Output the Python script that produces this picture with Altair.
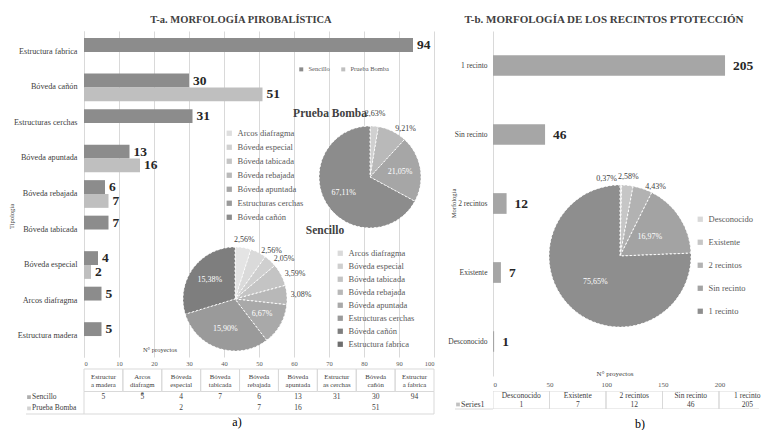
import altair as alt
import pandas as pd

FONT = "Liberation Serif"
GRID = "#d9d9d9"
TXT = "#404040"

# ---------------- panel a data ----------------
tipologias = ["Estructura fabrica", "Bóveda cañón", "Estructuras cerchas", "Bóveda apuntada",
              "Bóveda rebajada", "Bóveda tabicada", "Bóveda especial", "Arcos diafragma",
              "Estructura madera"]
sencillo = [94, 30, 31, 13, 6, 7, 4, 5, 5]
prueba_bomba = [None, 51, None, 16, 7, None, 2, None, None]
series_a = ["Sencillo", "Prueba Bomba"]
series_a_colors = ["#8c8c8c", "#bfbfbf"]
x_ticks_a = [0, 10, 20, 30, 40, 50, 60, 70, 80, 90, 100]

table_a_cols = ["Estructura madera", "Arcos diafragma", "Bóveda especial", "Bóveda tabicada",
                "Bóveda rebajada", "Bóveda apuntada", "Estructuras cerchas", "Bóveda cañón",
                "Estructura fabrica"]
table_a_head = ["Estructur\na madera", "Arcos\ndiafragm\na", "Bóveda\nespecial", "Bóveda\ntabicada",
                "Bóveda\nrebajada", "Bóveda\napuntada", "Estructur\nas cerchas", "Bóveda\ncañón",
                "Estructur\na fabrica"]

pie_pb_cats = ["Bóveda especial", "Bóveda rebajada", "Bóveda apuntada", "Bóveda cañón"]
pie_pb_vals = [2, 7, 16, 51]
pie_pb_domain = ["Arcos diafragma", "Bóveda especial", "Bóveda tabicada", "Bóveda rebajada",
                 "Bóveda apuntada", "Estructuras cerchas", "Bóveda cañón"]
pie_pb_colors = ["#dedede", "#d0d0d0", "#c4c4c4", "#b9b9b9", "#a6a6a6", "#9a9a9a", "#8c8c8c"]

pie_s_cats = ["Estructura madera", "Arcos diafragma", "Bóveda especial", "Bóveda tabicada",
              "Bóveda rebajada", "Bóveda apuntada", "Estructuras cerchas", "Bóveda cañón"]
pie_s_vals = [5, 5, 4, 7, 6, 13, 31, 30]
pie_s_domain = ["Estructura madera", "Arcos diafragma", "Bóveda especial", "Bóveda tabicada",
                "Bóveda rebajada", "Bóveda apuntada", "Estructuras cerchas", "Bóveda cañón",
                "Estructura fabrica"]
pie_s_colors = ["#e4e4e4", "#dadada", "#cfcfcf", "#c4c4c4", "#b8b8b8", "#a9a9a9", "#9a9a9a",
                "#7e7e7e", "#6e6e6e"]

# ---------------- panel b data ----------------
morfologias = ["1 recinto", "Sin recinto", "2 recintos", "Existente", "Desconocido"]
proyectos_b = [205, 46, 12, 7, 1]
x_ticks_b = [0, 50, 100, 150, 200]
table_b_cols = ["Desconocido", "Existente", "2 recintos", "Sin recinto", "1 recinto"]
table_b_vals = [1, 7, 12, 46, 205]
pie_b_colors = ["#d9d9d9", "#c6c6c6", "#b2b2b2", "#a3a3a3", "#8e8e8e"]


def pct(v, tot):
    return ("%.2f" % (v * 100.0 / tot)).replace(".", ",") + "%"


def pie_df(cats, vals, total):
    drawn = float(sum(vals))
    rows = []
    cum = 0.0
    for i, (c, v) in enumerate(zip(cats, vals)):
        lab = pct(v, total)
        share = v / drawn
        mid_deg = (cum + share / 2) * 360
        cum += share
        inside = share >= 0.1
        tiny_first = (i == 0 and share < 0.01)
        side = (not inside) and (not tiny_first) and mid_deg >= 15
        center = (not inside) and (not tiny_first) and not side
        rows.append({"c": c, "v": v, "i": i,
                     "lin": lab if inside else "",
                     "lout": lab if center else "",
                     "lright": lab if side else "",
                     "lleft": lab if tiny_first else ""})
    return pd.DataFrame(rows)


def legend(lx, ly, rowpad, size=8.5, values=None):
    kw = dict(orient="none", legendX=lx, legendY=ly, title=None, padding=0,
              symbolType="square", symbolSize=28, symbolStrokeWidth=0,
              labelFont=FONT, labelFontSize=size, labelColor="#595959", rowPadding=rowpad)
    if values is not None:
        kw["values"] = values
    return alt.Legend(**kw)


def pie(df, domain, colors, cx, cy, r, leg, out_gap=12, in_frac=0.6):
    base = alt.Chart(df).encode(
        theta=alt.Theta("v:Q", stack=True),
        order=alt.Order("i:Q"),
        x=alt.value(cx), y=alt.value(cy))
    arc = base.mark_arc(outerRadius=r, stroke="white", strokeWidth=1, strokeDash=[2, 2]).encode(
        color=alt.Color("c:N", scale=alt.Scale(domain=domain, range=colors), legend=leg))
    t_in = base.mark_text(radius=r * in_frac, font=FONT, fontSize=8, color="white").encode(
        text="lin:N")
    t_out = base.mark_text(radius=r + out_gap, font=FONT, fontSize=8, color=TXT).encode(
        text="lout:N")
    t_right = base.mark_text(radius=r + 2, align="left", dx=2, font=FONT, fontSize=8,
                             color=TXT).encode(text="lright:N")
    t_left = base.mark_text(radius=r + out_gap - 2, align="right", dx=-4, font=FONT, fontSize=8,
                            color=TXT).encode(text="lleft:N")
    return alt.layer(arc, t_in, t_out, t_right, t_left)


def label_text(txt, x, y, size, weight="normal"):
    return alt.Chart(pd.DataFrame({"t": [txt]})).mark_text(
        font=FONT, fontSize=size, fontWeight=weight, color=TXT).encode(
        text="t:N", x=alt.value(x), y=alt.value(y))


# ---------------- chart a ----------------
rows = []
for s, vals in zip(series_a, [sencillo, prueba_bomba]):
    for c, v in zip(tipologias, vals):
        if v is not None:
            rows.append({"cat": c, "series": s, "val": v})
bars_a_df = pd.DataFrame(rows)

ya = alt.Y("cat:N", sort=tipologias,
           scale=alt.Scale(domain=tipologias, paddingInner=0.22, paddingOuter=0.2),
           axis=alt.Axis(title="Tipología", labelFont=FONT, labelFontSize=8.2, labelColor=TXT,
                         ticks=False, domainColor=GRID, labelPadding=7, titleFont=FONT,
                         titleFontSize=6.5, titleFontWeight="normal", titleColor=TXT,
                         titleX=-73, titleY=185, titleBaseline="middle"))
xa = alt.X("val:Q", scale=alt.Scale(domain=[0, 100]),
           axis=alt.Axis(values=x_ticks_a, title=None, grid=True, gridColor=GRID, domain=False,
                         ticks=False, labelFont=FONT, labelFontSize=6.5, labelColor="#595959",
                         labelPadding=3))
yoff = alt.YOffset("series:N", scale=alt.Scale(domain=series_a, paddingInner=0, paddingOuter=0))

bars_a = alt.Chart(bars_a_df).mark_bar().encode(
    x=xa, y=ya, yOffset=yoff,
    color=alt.Color("series:N", scale=alt.Scale(domain=series_a, range=series_a_colors),
                    legend=alt.Legend(orient="none", legendX=214, legendY=35, title=None,
                                      direction="horizontal", padding=0, symbolType="square",
                                      symbolSize=16, symbolStrokeWidth=0, labelFont=FONT,
                                      labelFontSize=6.5, labelColor="#595959",
                                      columnPadding=10)))
labels_a = alt.Chart(bars_a_df).mark_text(align="left", dx=4, font=FONT, fontSize=13.5,
                                          fontWeight="bold", color="#262626").encode(
    x=xa, y=ya, yOffset=yoff, text="val:Q")

pie_pb = pie(pie_df(pie_pb_cats, pie_pb_vals, sum(pie_pb_vals)), pie_pb_domain, pie_pb_colors,
             286, 146, 51, legend(141, 98, 5), out_gap=12)
pie_s = pie(pie_df(pie_s_cats, pie_s_vals, sum(sencillo)), pie_s_domain, pie_s_colors,
            151, 268, 52, legend(252, 218, 4, values=pie_s_domain[1:]), out_gap=8)

t_pb = label_text("Prueba Bomba", 246, 83, 11.5, "bold")
t_s = label_text("Sencillo", 241, 200, 11.5, "bold")
axis_title_a = label_text("N° proyectos", 76, 319, 6.5)

chart_a = alt.layer(bars_a, labels_a, pie_pb, pie_s, t_pb, t_s, axis_title_a).resolve_scale(
    color="independent", theta="independent").properties(
    width=350, height=326,
    title=alt.Title("T-a. MORFOLOGÍA PIROBALÍSTICA", font=FONT, fontSize=10.5, fontWeight="bold",
                    color=TXT, dx=-18, offset=6))

# ---------------- table a ----------------
ta_scale_y = alt.Scale(domain=[0, 4], reverse=True)
ta_x = alt.X("col:N", scale=alt.Scale(domain=table_a_cols, paddingInner=0, paddingOuter=0),
             axis=None)
head_a_df = pd.DataFrame({"col": table_a_cols, "head": table_a_head})
rows = []
for si, (s, vals) in enumerate(zip(series_a, [sencillo, prueba_bomba])):
    for c, v in zip(tipologias, vals):
        if v is not None:
            rows.append({"col": c, "series": s, "val": str(v), "row": 2.5 + si})
vals_a_df = pd.DataFrame(rows)
rowlab_a_df = pd.DataFrame({"series": series_a, "row": [2.5 + i for i in range(len(series_a))]})
one_df = pd.DataFrame({"k": [0]})

cells_a = alt.Chart(head_a_df).mark_rect(fillOpacity=0, stroke=GRID, strokeWidth=1).encode(
    x=ta_x, y=alt.YDatum(0, scale=ta_scale_y, axis=None), y2=alt.Y2Datum(2))
head_a = alt.Chart(head_a_df).mark_text(lineBreak="\n", font=FONT, fontSize=6.8, color=TXT,
                                        lineHeight=7.8, dy=-3).encode(
    x=ta_x, y=alt.YDatum(1, scale=ta_scale_y, axis=None), text="head:N")
vals_a = alt.Chart(vals_a_df).mark_text(font=FONT, fontSize=7.5, color=TXT).encode(
    x=ta_x, y=alt.Y("row:Q", scale=ta_scale_y, axis=None), text="val:N")
rlab_a = alt.Chart(rowlab_a_df).mark_text(align="left", font=FONT, fontSize=7.5,
                                          color=TXT).encode(
    x=alt.value(-52), y=alt.Y("row:Q", scale=ta_scale_y, axis=None), text="series:N")
rsq_a = alt.Chart(rowlab_a_df).mark_square(size=14).encode(
    x=alt.value(-55), y=alt.Y("row:Q", scale=ta_scale_y, axis=None),
    color=alt.Color("series:N", scale=alt.Scale(domain=series_a, range=series_a_colors),
                    legend=None))
bot_a = alt.Chart(one_df).mark_rule(color=GRID).encode(
    x=alt.value(-58), x2=alt.value(350), y=alt.YDatum(4, scale=ta_scale_y, axis=None))
left_a = alt.Chart(one_df).mark_rule(color=GRID).encode(
    x=alt.value(0), y=alt.YDatum(2, scale=ta_scale_y, axis=None), y2=alt.Y2Datum(4))
right_a = alt.Chart(one_df).mark_rule(color=GRID).encode(
    x=alt.value(350), y=alt.YDatum(2, scale=ta_scale_y, axis=None), y2=alt.Y2Datum(4))

table_a = alt.layer(cells_a, head_a, vals_a, rlab_a, rsq_a, bot_a, left_a, right_a).properties(
    width=350, height=45,
    title=alt.Title("a)", orient="bottom", font=FONT, fontSize=12, fontWeight="normal",
                    color="#000000", dx=-22, offset=2))

# ---------------- chart b ----------------
bars_b_df = pd.DataFrame({"cat": morfologias, "val": proyectos_b})
yb = alt.Y("cat:N", sort=morfologias,
           scale=alt.Scale(domain=morfologias, paddingInner=0.7, paddingOuter=0.35),
           axis=alt.Axis(title="Morfología", labelFont=FONT, labelFontSize=7.5, labelColor=TXT,
                         ticks=False, domainColor=GRID, labelPadding=6, titleFont=FONT,
                         titleFontSize=6.5, titleFontWeight="normal", titleColor=TXT,
                         titleX=-40, titleY=172, titleBaseline="middle"))
xb = alt.X("val:Q", scale=alt.Scale(domain=[0, 235]),
           axis=alt.Axis(values=x_ticks_b, title=None, grid=False, domain=False, ticks=False,
                         labelFont=FONT, labelFontSize=7, labelColor="#595959", labelPadding=4))
bars_b = alt.Chart(bars_b_df).mark_bar(color="#a6a6a6").encode(x=xb, y=yb)
labels_b = alt.Chart(bars_b_df).mark_text(align="left", dx=8, font=FONT, fontSize=13.5,
                                          fontWeight="bold", color="#262626").encode(
    x=xb, y=yb, text="val:Q")
pie_b = pie(pie_df(table_b_cols, table_b_vals, sum(table_b_vals)), table_b_cols, pie_b_colors,
            127, 225, 71, legend(203, 184, 14), out_gap=8, in_frac=0.5)
axis_title_b = label_text("N° proyectos", 122, 343, 7)

chart_b = alt.layer(bars_b, labels_b, pie_b, axis_title_b).resolve_scale(
    color="independent", theta="independent").properties(
    width=266, height=345,
    title=alt.Title("T-b. MORFOLOGÍA DE LOS RECINTOS PTOTECCIÓN", font=FONT, fontSize=11,
                    fontWeight="bold", color=TXT, dx=-22, offset=6))

# ---------------- table b ----------------
tb_scale_y = alt.Scale(domain=[0, 2], reverse=True)
tb_x = alt.X("col:N", scale=alt.Scale(domain=table_b_cols, paddingInner=0, paddingOuter=0,
                                      range=[0, 282.5]), axis=None)
tb_df = pd.DataFrame({"col": table_b_cols, "val": [str(v) for v in table_b_vals]})
cells_b = alt.Chart(tb_df).mark_rect(fillOpacity=0, stroke=GRID, strokeWidth=1, clip=True).encode(
    x=tb_x, y=alt.YDatum(0, scale=tb_scale_y, axis=None), y2=alt.Y2Datum(2))
head_b = alt.Chart(tb_df).mark_text(font=FONT, fontSize=7.5, color=TXT).encode(
    x=tb_x, y=alt.YDatum(0.5, scale=tb_scale_y, axis=None), text="col:N")
vals_b = alt.Chart(tb_df).mark_text(font=FONT, fontSize=7.5, color=TXT).encode(
    x=tb_x, y=alt.YDatum(1.5, scale=tb_scale_y, axis=None), text="val:N")
rlab_b = alt.Chart(pd.DataFrame({"s": ["Series1"]})).mark_text(
    align="left", font=FONT, fontSize=8, color=TXT).encode(
    x=alt.value(-32), y=alt.YDatum(1.5, scale=tb_scale_y, axis=None), text="s:N")
rsq_b = alt.Chart(pd.DataFrame({"s": ["Series1"]})).mark_square(size=14, color="#a6a6a6").encode(
    x=alt.value(-35), y=alt.YDatum(1.5, scale=tb_scale_y, axis=None))
bot_b = alt.Chart(one_df).mark_rule(color=GRID).encode(
    x=alt.value(-38), x2=alt.value(0), y=alt.YDatum(2, scale=tb_scale_y, axis=None))

table_b = alt.layer(cells_b, head_b, vals_b, rlab_b, rsq_b, bot_b).properties(
    width=266, height=18,
    title=alt.Title("b)", orient="bottom", font=FONT, fontSize=12, fontWeight="normal",
                    color="#000000", dx=14, offset=9))

left = alt.vconcat(chart_a, table_a, spacing=12, bounds="flush").resolve_scale(
    color="independent", theta="independent")
right = alt.vconcat(chart_b, table_b, spacing=15, bounds="flush").resolve_scale(
    color="independent", theta="independent")
chart = alt.hconcat(left, right, spacing=12).resolve_scale(
    color="independent", theta="independent").properties(
    padding={"left": 0, "top": 6, "right": 0, "bottom": 0}).configure_view(stroke=None)

chart.save("out.html", embed_options={"renderer": "svg", "actions": False})
